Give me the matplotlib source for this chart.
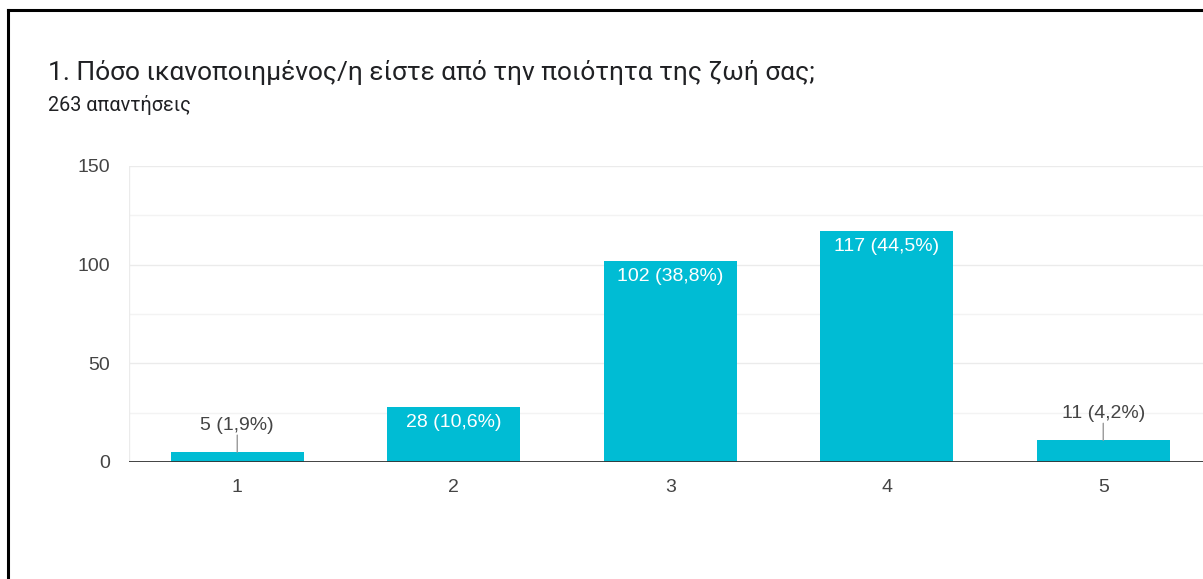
import matplotlib
matplotlib.use("Agg")
import matplotlib.pyplot as plt
from matplotlib.lines import Line2D

categories = ["1", "2", "3", "4", "5"]
counts = [5, 28, 102, 117, 11]
total = 263
title = "1. Πόσο ικανοποιημένος/η είστε από την ποιότητα της ζωή σας;"
subtitle = f"{total} απαντήσεις"
yticks = [0, 50, 100, 150]

W, H = 1203, 579
DPI = 100
fig = plt.figure(figsize=(W / DPI, H / DPI), dpi=DPI)
fig.patch.set_facecolor("white")

def fx(px):
    return px / W

def fy(py):
    return 1 - py / H

# frame
fig.add_artist(Line2D([fx(8), 1.0], [fy(10), fy(10)], color="black", lw=2.2))
fig.add_artist(Line2D([fx(8), fx(8)], [fy(10), 0], color="black", lw=2.2))

fig.text(fx(48), fy(80), title, fontsize=19, family="Roboto", color="#202124", va="baseline")
fig.text(fx(48), fy(111), subtitle, fontsize=14.3, family="Roboto", color="#202124", va="baseline")

left, right = 129, 129 + 5 * 216.5
top, bottom = 166, 462
ax = fig.add_axes([fx(left), fy(bottom), (right - left) / W, (bottom - top) / H])
ax.set_xlim(-0.5, 4.5)
ax.set_ylim(0, 150)

bar_color = "#00bcd4"
x = list(range(len(categories)))
bars = ax.bar(x, counts, width=0.615, color=bar_color, zorder=2)

for v in [25, 75, 125]:
    ax.axhline(v, color="#f3f3f3", lw=1, zorder=0)
for v in [50, 100, 150]:
    ax.axhline(v, color="#ebebeb", lw=1, zorder=0)
ax.axhline(0, color="#333333", lw=1.3, zorder=3)
ax.axvline(-0.5, color="#ebebeb", lw=1, zorder=0)

for s in ax.spines.values():
    s.set_visible(False)

ax.set_yticks(yticks)
ax.set_yticklabels([str(t) for t in yticks])
ax.set_xticks(x)
ax.set_xticklabels(categories)
ax.tick_params(length=0, labelsize=14, colors="#444444")
ax.tick_params(axis="y", pad=13.5)
ax.tick_params(axis="x", pad=12.5)
for lab in ax.get_xticklabels() + ax.get_yticklabels():
    lab.set_family("Liberation Sans")

pt = 72 / DPI
for xi, c in zip(x, counts):
    label = f"{c} ({c / total * 100:.1f}%)".replace(".", ",")
    if c >= 20:
        ax.annotate(label, (xi, c), xytext=(0, -7 * pt), textcoords="offset points",
                    ha="center", va="top", color="white", fontsize=14,
                    family="Liberation Sans", zorder=4)
    else:
        ax.annotate("", (xi, c), xytext=(0, 17 * pt), textcoords="offset points",
                    arrowprops=dict(arrowstyle="-", color="#999999", lw=1,
                                    shrinkA=0, shrinkB=0), zorder=4)
        ax.annotate(label, (xi, c), xytext=(0, 18 * pt), textcoords="offset points",
                    ha="center", va="bottom", color="#444444", fontsize=14,
                    family="Liberation Sans", zorder=4)

fig.savefig("out.png", dpi=DPI)
